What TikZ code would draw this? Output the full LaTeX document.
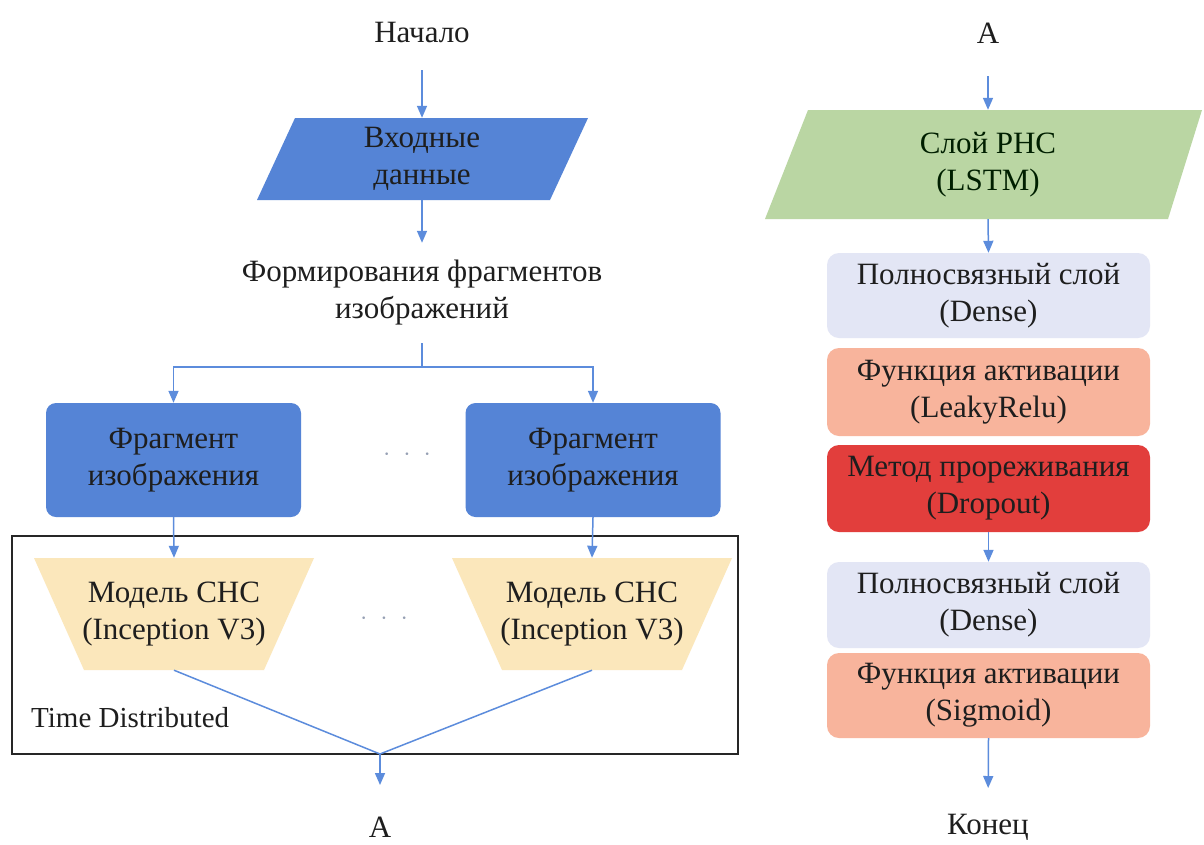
\documentclass[tikz,border=0pt]{standalone}
\usepackage{fontspec}
\setmainfont{Liberation Serif}
\usetikzlibrary{arrows.meta,calc}
\definecolor{bluec}{RGB}{85,132,214}
\definecolor{arrowc}{RGB}{92,140,220}
\definecolor{greenc}{RGB}{186,214,163}
\definecolor{yellowc}{RGB}{251,231,187}
\definecolor{lavc}{RGB}{227,230,245}
\definecolor{salmc}{RGB}{248,180,156}
\definecolor{redc}{RGB}{226,62,60}
\definecolor{textc}{RGB}{30,30,30}
\definecolor{dotc}{RGB}{150,160,180}
\tikzset{
  txt/.style={font=\fontsize{31}{37}\selectfont, text=textc, align=center, inner sep=0pt},
  bluebox/.style={txt, fill=bluec, rounded corners=10pt, minimum width=255pt, minimum height=114pt},
  rbox/.style={txt, fill=#1, rounded corners=12pt, minimum width=323pt},
  arr/.style={draw=arrowc, line width=1.5pt, -{Triangle[width=10pt,length=12pt]}},
  ln/.style={draw=arrowc, line width=1.5pt},
  dots/.style={font=\fontsize{22}{22}\selectfont, text=dotc, inner sep=0pt}
}
\begin{document}
\begin{tikzpicture}[x=1pt,y=-1pt]
\useasboundingbox[fill=white] (0,0) rectangle (1204,844);

% ---------- left column ----------
\node[txt, minimum height=76pt] (start) at (422,32) {Начало};

\fill[bluec] (295,118) -- (588,118) -- (550,200) -- (257,200) -- cycle;
\node[txt, minimum width=250pt, minimum height=82pt] (inp) at (422,159) {Входные\\данные};

\node[txt, minimum height=100pt] (form) at (422,293) {Формирования фрагментов\\изображений};
\coordinate (fork) at (422,367);

\node[draw=black!85, line width=1.2pt, minimum width=726pt, minimum height=218pt, inner sep=0pt] (tdbox) at (375,645) {};

\node[bluebox] (frag1) at (173.5,460) {Фрагмент\\изображения};
\node[bluebox] (frag2) at (593,460) {Фрагмент\\изображения};
\node[dots] (dots1) at (407,457) {·\hspace{13pt}·\hspace{13pt}·};

\fill[yellowc] (34,558) -- (314,558) -- (264,670) -- (84,670) -- cycle;
\fill[yellowc] (452,558) -- (732,558) -- (682,670) -- (502,670) -- cycle;
\node[txt, minimum width=280pt, minimum height=112pt] (cnn1) at (174,614) {Модель СНС\\(Inception V3)};
\node[txt, minimum width=280pt, minimum height=112pt] (cnn2) at (592,614) {Модель СНС\\(Inception V3)};
\node[dots] (dots2) at (384,621) {·\hspace{13pt}·\hspace{13pt}·};

\node[txt, font=\fontsize{29}{34}\selectfont, anchor=west] (tdlabel) at (31,718) {Time Distributed};

\coordinate (merge) at (380,754);
\node[txt, anchor=north] (aleft) at (380,817) {A};

\draw[arr] (start.south) -- (inp.north);
\draw[arr] (inp.south) -- (form.north);
\draw[ln] (form.south) -- (fork);
\draw[arr] (fork) -| (frag1.north);
\draw[arr] (fork) -| (frag2.north);
\draw[arr] (frag1.south) -- (cnn1.north);
\draw[arr] (frag2.south) -- (cnn2.north);
\draw[ln] (cnn1.south) -- (merge);
\draw[ln] (cnn2.south) -- (merge);
\draw[arr, shorten >=32pt] (merge) -- (aleft.north);

% ---------- right column ----------
\node[txt, minimum height=86pt] (aright) at (988,33) {A};

\fill[greenc] (808,110) -- (1202,110) -- (1168,219) -- (765,219) -- cycle;
\node[txt, text=black!70!green!40!black, minimum width=300pt, minimum height=109pt] (lstm) at (988,164.5) {Слой РНС\\(LSTM)};

\node[rbox=lavc, minimum height=85pt] (dense1) at (988.5,295.5) {Полносвязный слой\\(Dense)};
\node[rbox=salmc, minimum height=88pt] (leaky) at (988.5,392) {Функция активации\\(LeakyRelu)};
\node[rbox=redc, minimum height=87pt] (drop) at (988.5,488.5) {Метод прореживания\\(Dropout)};
\node[rbox=lavc, minimum height=86pt] (dense2) at (988.5,605) {Полносвязный слой\\(Dense)};
\node[rbox=salmc, minimum height=85pt] (sigm) at (988.5,695.5) {Функция активации\\(Sigmoid)};

\node[txt, anchor=north] (finish) at (988,814) {Конец};

\draw[arr] (aright.south) -- (lstm.north);
\draw[arr] (lstm.south) -- (dense1.north);
\draw[arr] (drop.south) -- (dense2.north);
\draw[arr, shorten >=26pt] (sigm.south) -- (finish.north);
\end{tikzpicture}
\end{document}
